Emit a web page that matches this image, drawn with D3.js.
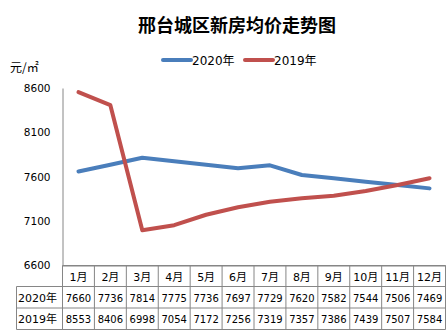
<!DOCTYPE html>
<html><head><meta charset="utf-8">
<script src="https://cdn.jsdelivr.net/npm/d3@7"></script>
<style>
body{margin:0;background:#fff;}
svg{display:block;}
text{font-family:"DejaVu Sans","Noto Sans CJK SC",sans-serif;}
</style></head>
<body>
<script>
const months = ["1月","2月","3月","4月","5月","6月","7月","8月","9月","10月","11月","12月"];
const series2020 = [7660,7736,7814,7775,7736,7697,7729,7620,7582,7544,7506,7469];
const series2019 = [8553,8406,6998,7054,7172,7256,7319,7357,7386,7439,7507,7584];
const seriesNames = ["2020年","2019年"];
const yTicks = [6600,7100,7600,8100,8600];
const colors = ["#4a7ebb","#c0504d"];

const W=448,H=335;
const svg=d3.select("body").append("svg").attr("width",W).attr("height",H);
const x=d3.scaleBand().domain(months).range([62.5,445.5]);
const y=d3.scaleLinear().domain([6600,8600]).range([265.5,88]);

svg.append("text").attr("x",237).attr("y",32).attr("text-anchor","middle")
  .style("font-family","'Noto Sans CJK SC',sans-serif").style("font-weight","bold").style("font-size","18px")
  .text("邢台城区新房均价走势图");

// legend
const lg=[{x:163,n:0},{x:245,n:1}];
lg.forEach(l=>{
  svg.append("line").attr("x1",l.x).attr("x2",l.x+28).attr("y1",60).attr("y2",60)
    .attr("stroke",colors[l.n]).attr("stroke-width",4).attr("stroke-linecap","round");
  svg.append("text").attr("x",l.x+29).attr("y",64.5).style("font-size","12px").text(seriesNames[l.n]);
});

svg.append("text").attr("x",10).attr("y",72).style("font-size","12px")
  .style("font-family","'Noto Sans CJK SC',sans-serif").text("元/㎡");

// y axis
const ya=svg.append("g").attr("transform","translate(62.5,0)")
  .call(d3.axisLeft(y).tickValues(yTicks).tickSize(0).tickPadding(12).tickFormat(d3.format("d")));
ya.select(".domain").attr("stroke","#868686");
ya.selectAll("text").style("font-size","10.5px").style("font-family","DejaVu Sans").attr("fill","#000");

// x axis line
const xa=svg.append("g").attr("transform","translate(0,265.5)")
  .call(d3.axisBottom(x).tickSize(0).tickFormat(""));
xa.select(".domain").attr("stroke","#868686");

// table
const rowsY=[265.5,286.5,308,329.5];
const tg=svg.append("g").attr("stroke","#868686").attr("stroke-width",1).attr("fill","none");
rowsY.forEach((ry,i)=>{
  tg.append("line").attr("x1",i===0?62.5:16.5).attr("x2",445.5).attr("y1",ry).attr("y2",ry);
});
const vx=[16.5].concat(months.map(m=>x(m))).concat([x(months[11])+x.bandwidth()]);
vx.forEach((vv,i)=>{
  tg.append("line").attr("x1",vv).attr("x2",vv).attr("y1",i===0?286.5:265.5).attr("y2",329.5);
});
svg.selectAll(".mh").data(months).join("text").attr("x",d=>x(d)+x.bandwidth()/2).attr("y",281)
  .attr("text-anchor","middle").style("font-size","11px").style("font-family","'DejaVu Sans','Noto Sans CJK SC'").text(d=>d);
[series2020,series2019].forEach((s,si)=>{
  const ty=(rowsY[si+1]+rowsY[si+2])/2+4.5;
  svg.append("text").attr("x",18).attr("y",ty).style("font-size","11px")
    .style("font-family","'DejaVu Sans','Noto Sans CJK SC'").text(seriesNames[si]);
  svg.selectAll(".v"+si).data(s).join("text").attr("x",(d,i)=>x(months[i])+x.bandwidth()/2).attr("y",ty)
    .attr("text-anchor","middle").style("font-size","10px").text(d=>d);
});

// lines
const line=d3.line().x((d,i)=>x(months[i])+x.bandwidth()/2).y(d=>y(d));
[series2020,series2019].forEach((s,si)=>{
  svg.append("path").datum(s).attr("d",line).attr("fill","none").attr("stroke",colors[si])
    .attr("stroke-width",4).attr("stroke-linejoin","round").attr("stroke-linecap","round");
});
</script>
</body></html>
